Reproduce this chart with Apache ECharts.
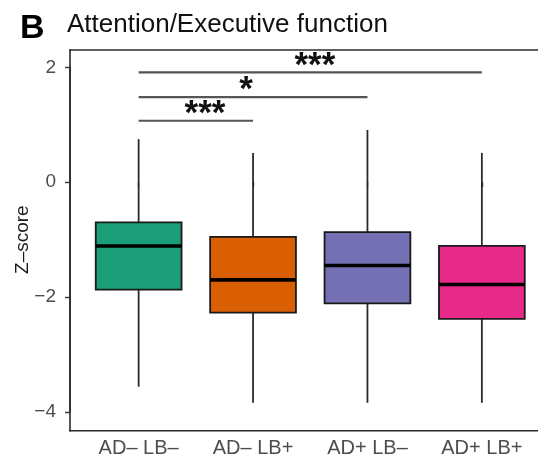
<!DOCTYPE html>
<html>
<head>
<meta charset="utf-8">
<script src="https://cdn.jsdelivr.net/npm/echarts@6/dist/echarts.min.js"></script>
<style>
html,body{margin:0;padding:0;background:#fff;overflow:hidden;}
#chart{width:542px;height:458px;}
</style>
</head>
<body>
<div id="chart"></div>
<script>
// ---- data ----
var categories = ['AD\u2013 LB\u2013', 'AD\u2013 LB+', 'AD+ LB\u2013', 'AD+ LB+'];
var categoryPos = [1, 2, 3, 4];
var whiskerLow = [-3.56, -3.84, -3.84, -3.84];
var q1Values   = [-1.87, -2.27, -2.11, -2.38];
var medians    = [-1.11, -1.70, -1.45, -1.78];
var q3Values   = [-0.70, -0.95, -0.87, -1.11];
var whiskerHigh = [0.75, 0.51, 0.91, 0.51];
var boxColors = ['#1b9e77', '#d95f02', '#7570b3', '#e7298a'];
var yTicks = [-4, -2, 0, 2];

// significance brackets (x in category positions)
var sigFrom = [1, 1, 1];
var sigTo = [2, 3, 4];
var sigY = [1.07, 1.48, 1.91];
var sigLabels = ['***', '*', '***'];
var sigLabelX = [1.58, 1.94, 2.54];

var boxData = categories.map(function (c, i) {
  return [categoryPos[i], whiskerLow[i], q1Values[i], medians[i], q3Values[i], whiskerHigh[i]];
});
var sigData = sigFrom.map(function (f, i) {
  return [f, sigTo[i], sigY[i], sigLabelX[i], i];
});

var chart = echarts.init(document.getElementById('chart'), null, {renderer: 'canvas'});
var FONT = '"Liberation Sans", Arial, Helvetica, sans-serif';
var FRAME = '#2b2b2b';

var option = {
  animation: false,
  backgroundColor: '#ffffff',
  grid: {left: 70, top: 67.3, width: 480.5, height: 344.7, containLabel: false, outerBoundsMode: 'none', show: false},
  xAxis: {
    type: 'value',
    min: 0.4, max: 4.6,
    offset: 18.7,
    axisLine: {show: false},
    axisTick: {show: true, customValues: categoryPos, length: 5, lineStyle: {color: '#333', width: 1.4}},
    axisLabel: {show: true, customValues: categoryPos, color: '#4d4d4d', fontSize: 20, fontFamily: FONT, margin: 8,
      formatter: function (v) { return categories[Math.round(v) - 1] || ''; }},
    splitLine: {show: false}
  },
  yAxis: {
    type: 'value',
    min: yTicks[0], max: yTicks[yTicks.length - 1], interval: 2,
    name: 'Z\u2013score',
    nameLocation: 'middle',
    nameGap: 38,
    nameMoveOverlap: false,
    nameTextStyle: {color: '#1a1a1a', fontSize: 19, fontFamily: FONT},
    axisLine: {show: true, onZero: false, lineStyle: {color: FRAME, width: 1.6}},
    axisTick: {show: true, length: 5, lineStyle: {color: '#333', width: 1.4}},
    axisLabel: {color: '#4d4d4d', fontSize: 19, fontFamily: FONT, margin: 14,
      formatter: function (v) { return v < 0 ? '\u2212' + Math.abs(v) : String(v); }},
    splitLine: {show: false}
  },
  graphic: [
    {type: 'line', shape: {x1: 69.2, y1: 50, x2: 538, y2: 50}, style: {stroke: FRAME, lineWidth: 1.6}, z: 100, silent: true},
    {type: 'line', shape: {x1: 70, y1: 49.2, x2: 70, y2: 431.5}, style: {stroke: FRAME, lineWidth: 1.6}, z: 100, silent: true},
    {type: 'line', shape: {x1: 69.2, y1: 430.7, x2: 538, y2: 430.7}, style: {stroke: FRAME, lineWidth: 1.6}, z: 100, silent: true},
    {type: 'text', left: 20, top: 12, style: {text: 'B', font: 'bold 34px ' + FONT, fill: '#000'}},
    {type: 'text', left: 67, top: 12, style: {text: 'Attention/Executive function', font: '26px ' + FONT, fill: '#111'}}
  ],
  series: [
    {
      type: 'custom',
      name: 'box',
      data: boxData,
      encode: {x: 0, y: [1, 2, 3, 4, 5]},
      renderItem: function (params, api) {
        var x = api.value(0);
        var bw = api.size([1, 0])[0] * 0.75;
        var pMin = api.coord([x, api.value(1)]);
        var pQ1 = api.coord([x, api.value(2)]);
        var pMed = api.coord([x, api.value(3)]);
        var pQ3 = api.coord([x, api.value(4)]);
        var pMax = api.coord([x, api.value(5)]);
        var cx = pMed[0];
        return {
          type: 'group',
          children: [
            {type: 'line', shape: {x1: cx, y1: pMax[1], x2: cx, y2: pQ3[1]}, style: {stroke: '#2b2b2b', lineWidth: 1.8}},
            {type: 'line', shape: {x1: cx, y1: pQ1[1], x2: cx, y2: pMin[1]}, style: {stroke: '#2b2b2b', lineWidth: 1.8}},
            {type: 'rect', shape: {x: cx - bw / 2, y: pQ3[1], width: bw, height: pQ1[1] - pQ3[1]},
             style: {fill: boxColors[params.dataIndex], stroke: '#1a1a1a', lineWidth: 1.8}},
            {type: 'line', shape: {x1: cx - bw / 2, y1: pMed[1], x2: cx + bw / 2, y2: pMed[1]}, style: {stroke: '#000', lineWidth: 3.6}}
          ]
        };
      }
    },
    {
      type: 'custom',
      name: 'sig',
      data: sigData,
      encode: {x: [0, 1, 3], y: 2},
      renderItem: function (params, api) {
        var a = api.coord([api.value(0), api.value(2)]);
        var b = api.coord([api.value(1), api.value(2)]);
        var l = api.coord([api.value(3), api.value(2)]);
        return {
          type: 'group',
          children: [
            {type: 'line', shape: {x1: a[0], y1: a[1], x2: b[0], y2: b[1]}, style: {stroke: '#555', lineWidth: 2.2}},
            {type: 'text', style: {text: sigLabels[api.value(4)], x: l[0], y: a[1] + 11, textAlign: 'center', textVerticalAlign: 'bottom',
              font: 'bold 35px ' + FONT, fill: '#111'}}
          ]
        };
      }
    }
  ]
};
chart.setOption(option);
</script>
</body>
</html>
